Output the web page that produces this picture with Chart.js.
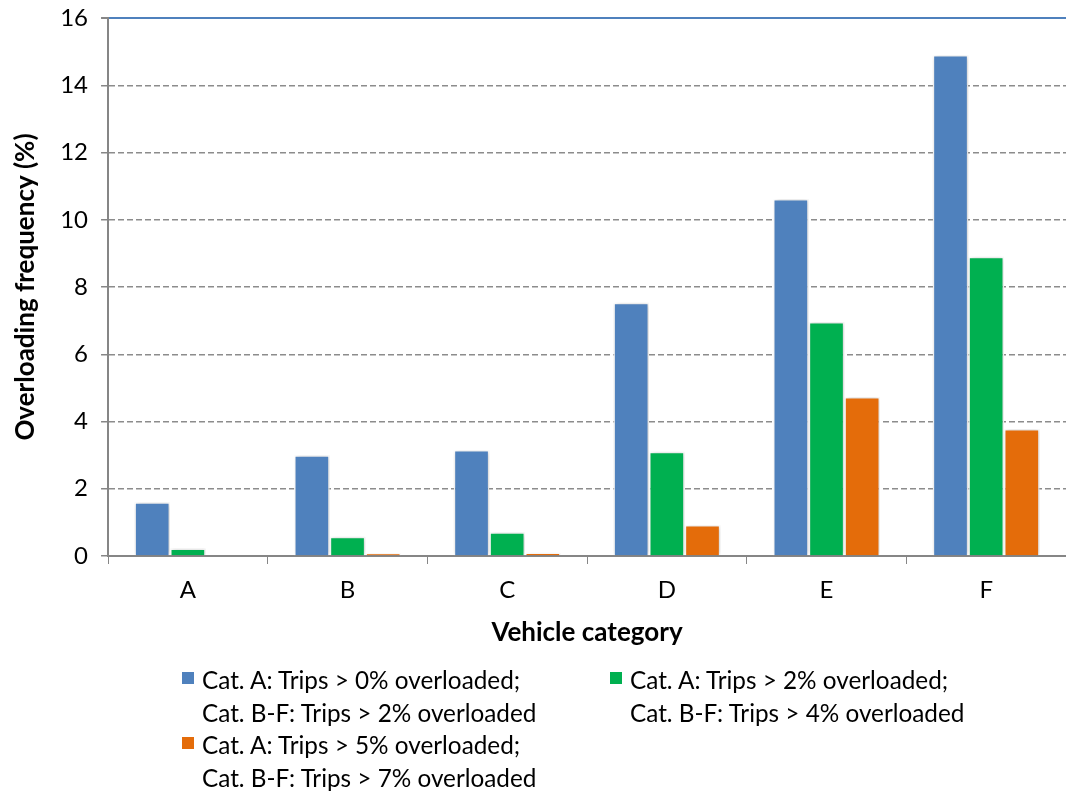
<!DOCTYPE html>
<html>
<head>
<meta charset="utf-8">
<script src="https://cdn.jsdelivr.net/npm/chart.js@4.4.1/dist/chart.umd.min.js"></script>
<style>
  html, body { margin: 0; padding: 0; background: #fff; }
  #wrap { position: relative; width: 1066px; height: 794px; }
  #legend { position: absolute; left: 0; top: 0; width: 1066px; height: 794px; pointer-events: none;
            font-family: Lato, "Open Sans", sans-serif; font-size: 24.3px; color: #000; }
  .item { position: absolute; line-height: 32.5px; }
  .sw { position: absolute; left: -20px; top: 8px; width: 12px; height: 12px; }
</style>
</head>
<body>
<div id="wrap">
  <canvas id="overloadChart" width="1066" height="794"></canvas>
  <div id="legend"></div>
</div>
<script>
// data
const categories = ['A', 'B', 'C', 'D', 'E', 'F'];
const trips_low = [1.6, 3.0, 3.15, 7.53, 10.62, 14.9];
const trips_mid = [0.22, 0.57, 0.71, 3.1, 6.96, 8.9];
const trips_high = [0.0, 0.08, 0.1, 0.92, 4.73, 3.78];
const series_labels = [
    ['Cat. A: Trips > 0% overloaded;', 'Cat. B-F: Trips > 2% overloaded'],
    ['Cat. A: Trips > 2% overloaded;', 'Cat. B-F: Trips > 4% overloaded'],
    ['Cat. A: Trips > 5% overloaded;', 'Cat. B-F: Trips > 7% overloaded']
];
const series_colors = ['#4f81bd', '#00b050', '#e46c0a'];
const y_ticks = [0, 2, 4, 6, 8, 10, 12, 14, 16];

const font = 'Lato, "Open Sans", sans-serif';

// soft shadow behind the bars, like the spreadsheet style
const barShadow = {
    id: 'barShadow',
    beforeDatasetsDraw(chart) {
        chart.ctx.save();
        chart.ctx.shadowColor = 'rgba(0,0,0,0.22)';
        chart.ctx.shadowBlur = 5;
        chart.ctx.shadowOffsetX = 1;
    },
    afterDatasetsDraw(chart) {
        chart.ctx.restore();
    }
};

const ctx = document.getElementById('overloadChart').getContext('2d');
const chart = new Chart(ctx, {
    type: 'bar',
    data: {
        labels: categories,
        datasets: [trips_low, trips_mid, trips_high].map((vals, i) => ({
            label: series_labels[i].join(' '),
            data: vals,
            backgroundColor: series_colors[i],
            borderColor: '#ffffff',
            borderWidth: 1.5,
            barPercentage: 1.0,
            categoryPercentage: 0.67
        }))
    },
    options: {
        responsive: false,
        animation: false,
        layout: { padding: { top: 0, right: 0, bottom: 142, left: 6 } },
        plugins: {
            legend: { display: false },
            tooltip: { enabled: false }
        },
        scales: {
            x: {
                grid: { display: true, drawOnChartArea: false, drawTicks: true, tickLength: 8, color: '#868686', offset: true },
                border: { color: '#868686', width: 2 },
                ticks: { color: '#000', font: { family: font, size: 24 }, padding: 12 },
                title: { display: true, text: 'Vehicle category', color: '#000',
                         font: { family: font, size: 26, weight: 'bold' }, padding: { top: 0 } }
            },
            y: {
                min: 0,
                max: 16,
                afterBuildTicks: axis => { axis.ticks = y_ticks.map(v => ({ value: v })); },
                grid: {
                    color: c => c.tick && c.tick.value === 16 ? '#4f81bd' : '#8c8c8c',
                    lineWidth: c => c.tick && c.tick.value === 16 ? 2 : 1.5,
                    tickColor: '#868686',
                    tickLength: 7
                },
                border: { color: '#868686', width: 2, dash: c => c.tick && c.tick.value === 16 ? [] : [6, 3] },
                ticks: { color: '#000', font: { family: font, size: 24, lineHeight: 0.42 }, padding: 13 },
                title: { display: true, text: 'Overloading frequency (%)', color: '#000',
                         font: { family: font, size: 26, weight: 'bold' }, padding: { bottom: 6 } }
            }
        }
    },
    plugins: [barShadow]
});

// legend with two-line entries, built from the series arrays
const legend = document.getElementById('legend');
const legendPos = [[202, 664], [630, 664], [202, 729]];
series_labels.forEach((lines, i) => {
    const d = document.createElement('div');
    d.className = 'item';
    d.style.left = legendPos[i][0] + 'px';
    d.style.top = legendPos[i][1] + 'px';
    d.innerHTML = '<span class="sw" style="background:' + series_colors[i] + '"></span>' + lines.join('<br>');
    legend.appendChild(d);
});
console.log(JSON.stringify(chart.chartArea));
</script>
</body>
</html>
